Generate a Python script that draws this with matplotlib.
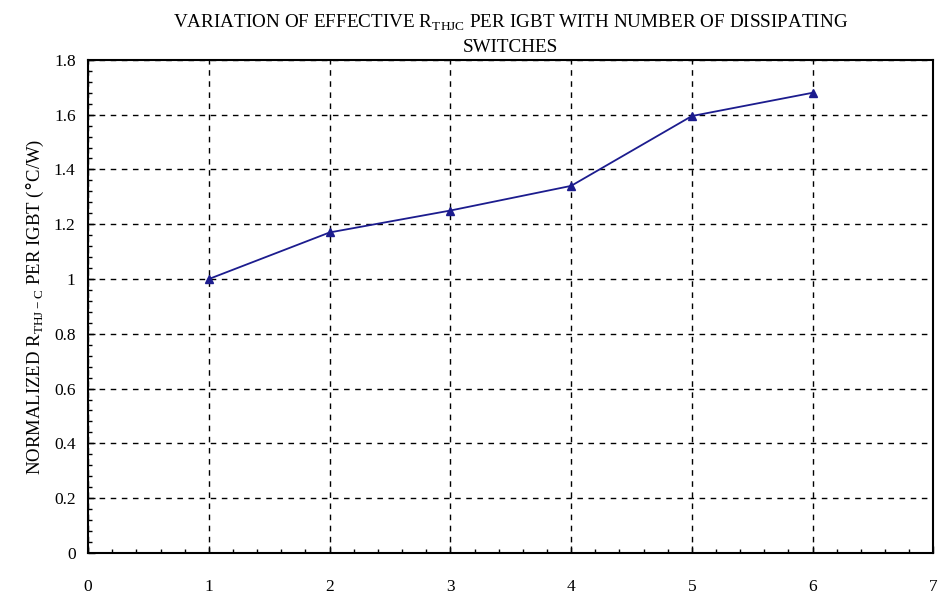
import matplotlib
matplotlib.use("Agg")
import matplotlib.pyplot as plt
from matplotlib.ticker import MultipleLocator

switches = [1, 2, 3, 4, 5, 6]
rth_norm = [1.00, 1.17, 1.25, 1.34, 1.595, 1.68]

plt.rcParams['font.family'] = ['Liberation Serif', 'DejaVu Serif']

fig = plt.figure(figsize=(9.38, 5.99), dpi=100)
ax = fig.add_axes([0.094, 0.077, 0.901, 0.823])

ax.plot(switches, rth_norm, color='#1c1c8e', lw=1.3, marker='^', ms=6,
        markerfacecolor='#1c1c8e', markeredgecolor='#1c1c8e')

ax.set_xlim(0, 7)
ax.set_ylim(0, 1.8)
ax.xaxis.set_major_locator(MultipleLocator(1))
ax.xaxis.set_minor_locator(MultipleLocator(0.2))
ax.yaxis.set_major_locator(MultipleLocator(0.2))
ax.yaxis.set_minor_locator(MultipleLocator(0.04))
ax.yaxis.set_major_formatter(matplotlib.ticker.FuncFormatter(lambda v, p: f"{v:g}"))

ax.tick_params(which='both', direction='in', top=False, right=False, labelsize=12.5)
ax.tick_params(which='major', length=5, width=1)
ax.tick_params(which='minor', length=3, width=1)
ax.tick_params(axis='x', pad=19)
ax.tick_params(axis='y', pad=9)

ax.grid(True, which='major', color='black', linestyle=(0, (4, 4)), lw=1)
for s in ax.spines.values():
    s.set_linewidth(1.5)

ax.set_ylabel(r"NORMALIZED R$_{\mathregular{THJ-C}}$ PER IGBT ($\degree$C/W)", fontsize=13.5, labelpad=6)
ax.set_title(r"VARIATION OF EFFECTIVE R$_{\mathregular{THJC}}$ PER IGBT WITH NUMBER OF DISSIPATING" + "\nSWITCHES",
             fontsize=13.8, pad=6, linespacing=1.45)

fig.savefig("out.png", dpi=100)
